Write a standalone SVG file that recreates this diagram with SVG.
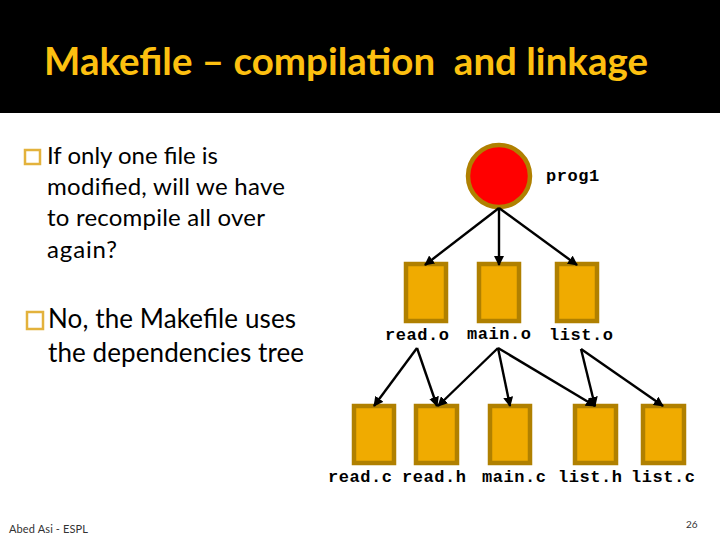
<svg xmlns="http://www.w3.org/2000/svg" width="720" height="540" viewBox="0 0 720 540">
<style>
.t{font-family:"Lato","Open Sans",sans-serif;fill:#000}
.b1{font-size:24px}
.b2{font-size:26px}
.m{font-family:"Liberation Mono",monospace;font-weight:bold;font-size:17px;letter-spacing:.55px;fill:#000}
.n{fill:#f0ab00;stroke:#b08000;stroke-width:4.5}
.bu{fill:#fff;stroke:#e3b23c;stroke-width:2.5}
.c line{stroke:#000;stroke-width:2.4;marker-end:url(#a)}
</style>
<defs><marker id="a" markerUnits="userSpaceOnUse" markerWidth="12" markerHeight="10" refX="9" refY="5" orient="auto"><path d="M0 0L10 5L0 10z" fill="#000"/></marker></defs>
<rect x="0" y="0" width="720" height="113" fill="#000"/>
<text x="44" y="75" font-family="Lato,'Open Sans',sans-serif" font-size="38" font-weight="700" fill="#fdc010" textLength="604" lengthAdjust="spacingAndGlyphs" xml:space="preserve">Makefile – compilation  and linkage</text>
<rect class="bu" x="25" y="150" width="15" height="14"/>
<text class="t b1" x="47" y="164" textLength="171">If only one file is</text>
<text class="t b1" x="47" y="195" textLength="238">modified, will we have</text>
<text class="t b1" x="47" y="226" textLength="218">to recompile all over</text>
<text class="t b1" x="47" y="258" textLength="70">again?</text>
<rect class="bu" x="27" y="312" width="16" height="17"/>
<text class="t b2" x="48" y="328" textLength="248">No, the Makefile uses</text>
<text class="t b2" x="48" y="362" textLength="256">the dependencies tree</text>
<g id="prog1"><circle class="n" style="fill:#f00" cx="499" cy="176" r="31"/><text class="m" x="546" y="181">prog1</text></g>
<g id="read-o"><rect class="n" x="406" y="264" width="40" height="57"/><text class="m" x="385" y="340">read.o</text></g>
<g id="main-o"><rect class="n" x="479" y="264" width="40" height="57"/><text class="m" x="467" y="339">main.o</text></g>
<g id="list-o"><rect class="n" x="557" y="264" width="40" height="57"/><text class="m" x="549" y="340">list.o</text></g>
<g id="read-c"><rect class="n" x="354" y="406" width="40" height="57"/><text class="m" x="328" y="482">read.c</text></g>
<g id="read-h"><rect class="n" x="416" y="406" width="41" height="57"/><text class="m" x="402" y="482">read.h</text></g>
<g id="main-c"><rect class="n" x="490" y="406" width="40" height="57"/><text class="m" x="482" y="482">main.c</text></g>
<g id="list-h"><rect class="n" x="575" y="406" width="41" height="57"/><text class="m" x="558" y="482">list.h</text></g>
<g id="list-c"><rect class="n" x="643" y="406" width="41" height="57"/><text class="m" x="631" y="482">list.c</text></g>
<g class="c" id="connectors">
<line x1="499" y1="208" x2="425" y2="265"/>
<line x1="499" y1="208" x2="499" y2="265"/>
<line x1="499" y1="208" x2="577" y2="265"/>
<line x1="417" y1="348" x2="374" y2="406"/>
<line x1="417" y1="348" x2="437" y2="406"/>
<line x1="498" y1="348" x2="438" y2="406"/>
<line x1="498" y1="348" x2="510" y2="406"/>
<line x1="498" y1="348" x2="595" y2="406"/>
<line x1="581" y1="349" x2="595" y2="406"/>
<line x1="581" y1="349" x2="663" y2="406"/>
</g>
<text x="9" y="533" font-family="Lato,sans-serif" font-size="11" fill="#333" textLength="79">Abed Asi - ESPL</text>
<text x="686" y="528" font-family="Lato,sans-serif" font-size="10" fill="#333">26</text>
</svg>
